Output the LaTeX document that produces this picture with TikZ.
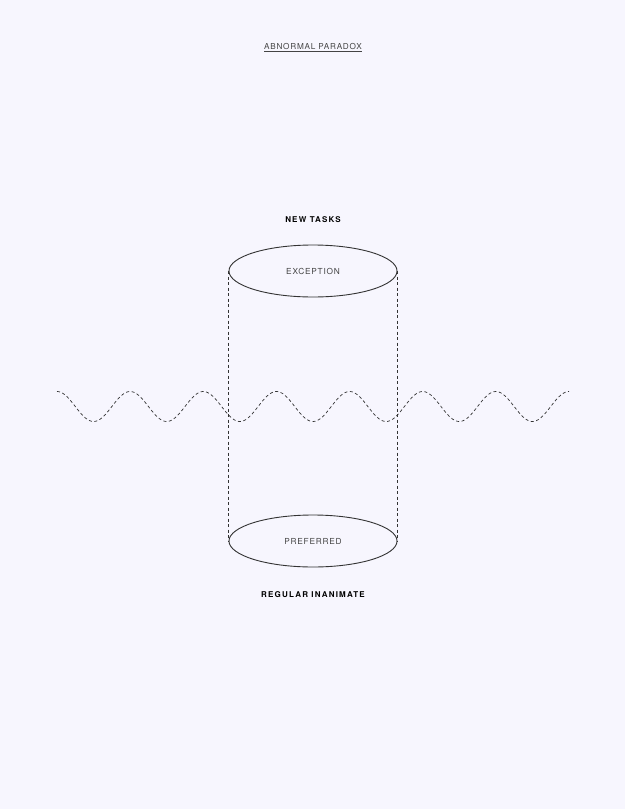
\documentclass[tikz,border=0pt]{standalone}
\usepackage{fontspec}
\setmainfont{TeX Gyre Heros}
\newfontfamily\labelfont[LetterSpace=15]{TeX Gyre Heros}
\newfontfamily\facefont[LetterSpace=9]{TeX Gyre Heros}
\usetikzlibrary{shapes.geometric}
\definecolor{bgcol}{HTML}{F7F6FE}
\definecolor{inkcol}{HTML}{333333}
\definecolor{textgray}{HTML}{444444}
\tikzset{
    face/.style={ellipse,draw=inkcol,line width=0.9pt,minimum width=168,minimum height=52,inner sep=0pt,
        font=\facefont\fontsize{8.3}{10}\selectfont,text=textgray},
    caption/.style={font=\labelfont\bfseries\fontsize{8}{10}\selectfont,text=black},
    dashline/.style={draw=inkcol,line width=0.7pt,dash pattern=on 3pt off 2.5pt}
}
\begin{document}
\begin{tikzpicture}[x=1pt,y=-1pt]
                \fill[bgcol] (0,0) rectangle (625,809);
                \useasboundingbox (0,0) rectangle (625,809);
                \node[font=\facefont\fontsize{8.2}{10}\selectfont,text=textgray] (title) at (313,47.5) {\underline{ABNORMAL PARADOX}};
                \node[face] (exception) at (313,271) {\raisebox{-1.2pt}{EXCEPTION}};
                \node[face] (preferred) at (313,541) {\raisebox{-1.2pt}{PREFERRED}};
                \node[caption] (newtasks) at (313,219.5) {NEW TASKS};
                \node[caption] (inanimate) at (313,594.5) {REGULAR INANIMATE};
                \foreach \side in {west,east}{
                        \draw[dashline] (exception.\side) -- (preferred.\side);
                    }
                \draw[dashline] plot[domain=57:569,samples=300,smooth] (\x,{406.5-15*cos((\x-57)/73.143*360)});
            \end{tikzpicture}
\end{document}
